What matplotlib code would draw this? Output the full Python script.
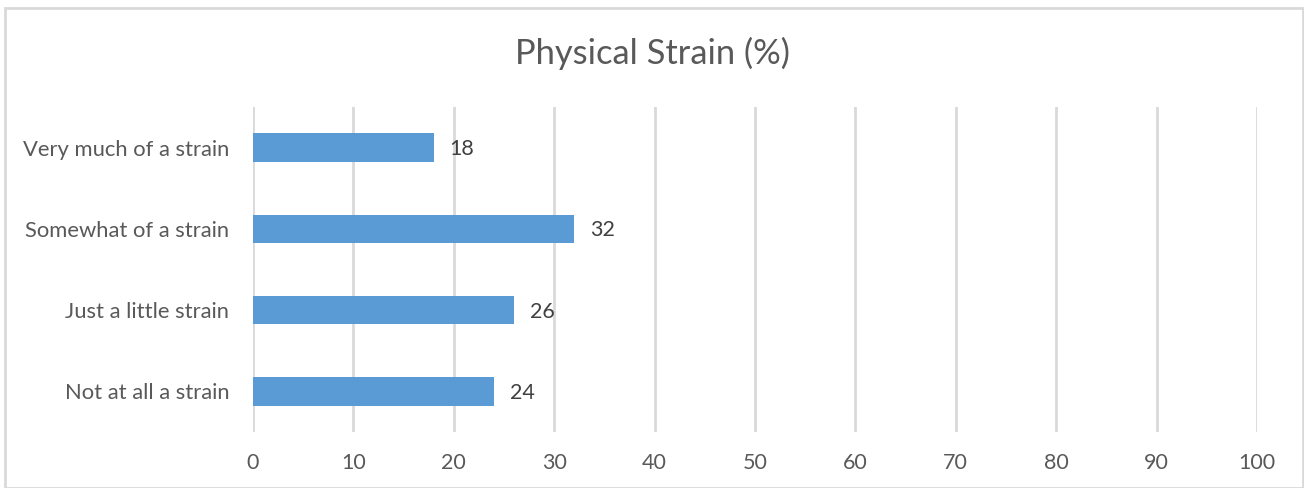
import matplotlib
matplotlib.use("Agg")
import matplotlib.pyplot as plt
from matplotlib.patches import Rectangle

categories = ["Not at all a strain", "Just a little strain", "Somewhat of a strain", "Very much of a strain"]
values = [24, 26, 32, 18]
xticks = [0, 10, 20, 30, 40, 50, 60, 70, 80, 90, 100]
title = "Physical Strain (%)"

plt.rcParams['font.family'] = ['Lato', 'DejaVu Sans']

W, H = 1304, 488
fig = plt.figure(figsize=(W / 100, H / 100), dpi=100)
ax = fig.add_axes([253 / W, 1 - 432 / H, (1257 - 253) / W, (432 - 107) / H])

ypos = list(range(len(categories)))
ax.barh(ypos, values, height=0.35, color="#5B9BD5", zorder=3)
for y, v in zip(ypos, values):
    ax.text(v + 1.6, y - 0.02, f"{v}", va="center", ha="left", fontsize=15.5, color="#404040")

ax.set_xlim(0, 100)
ax.set_ylim(-0.5, len(categories) - 0.5)
ax.set_xticks(xticks)
ax.set_xticklabels([str(t) for t in xticks], fontsize=15.5, color="#595959")
ax.set_yticks(ypos)
ax.set_yticklabels(categories, fontsize=15.8, color="#595959")
ax.tick_params(axis="both", length=0)
ax.tick_params(axis="x", pad=15)
ax.tick_params(axis="y", pad=17)
ax.grid(axis="x", color="#D9D9D9", linewidth=2, zorder=0)
for s in ax.spines.values():
    s.set_visible(False)

fig.text(0.5, 1 - 53 / H, title, ha="center", va="center", fontsize=24.8, color="#595959")

fig.patches.append(Rectangle((5 / W, 0), (1303 - 5) / W, (H - 8) / H, transform=fig.transFigure,
                             fill=False, edgecolor="#D9D9D9", linewidth=2))

fig.savefig("out.png", dpi=100, facecolor="white")
